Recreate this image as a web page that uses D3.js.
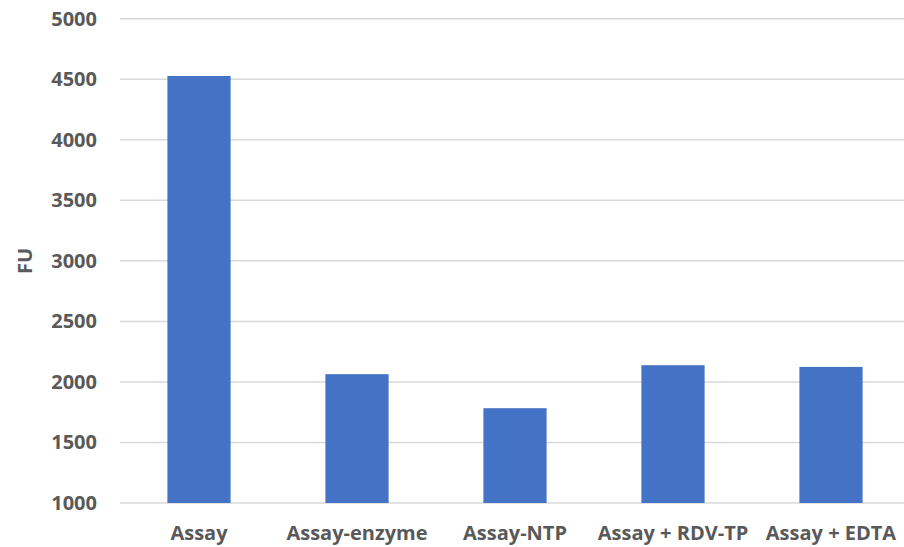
<!DOCTYPE html>
<html>
<head>
<meta charset="utf-8">
<script src="https://cdn.jsdelivr.net/npm/d3@7"></script>
<style>
  body { margin: 0; background: #fff; }
  text { font-family: "Open Sans", "Liberation Sans", sans-serif; font-weight: bold; fill: #595959; }
</style>
</head>
<body>
<div id="chart"></div>
<script>
const WIDTH  = 904
const HEIGHT = 547

// data
const categories = ['Assay', 'Assay-enzyme', 'Assay-NTP', 'Assay + RDV-TP', 'Assay + EDTA']
const values     = [4527, 2064, 1783, 2138, 2124]
const yTicks     = [1000, 1500, 2000, 2500, 3000, 3500, 4000, 4500, 5000]

const svg = d3.select('#chart').append('svg')
    .attr('width', WIDTH)
    .attr('height', HEIGHT)

const x = d3.scaleBand()
    .domain(categories)
    .range([120, 910])
    .paddingInner(0.6)
    .paddingOuter(0.3)

const y = d3.scaleLinear()
    .domain([1000, 5000])
    .range([503, 18.7])

// gridlines
svg.append('g')
    .selectAll('line')
    .data(yTicks)
    .join('line')
    .attr('x1', 120)
    .attr('x2', WIDTH)
    .attr('y1', d => y(d))
    .attr('y2', d => y(d))
    .attr('stroke', '#d9d9d9')
    .attr('stroke-width', 1.5)

// bars
svg.append('g')
    .selectAll('rect')
    .data(values)
    .join('rect')
    .attr('x', (d, i) => x(categories[i]))
    .attr('y', d => y(d))
    .attr('width', x.bandwidth())
    .attr('height', d => y(1000) - y(d))
    .attr('fill', '#4472c4')

// y tick labels
svg.append('g')
    .selectAll('text')
    .data(yTicks)
    .join('text')
    .attr('x', 97)
    .attr('y', d => y(d))
    .attr('dy', '0.35em')
    .attr('text-anchor', 'end')
    .attr('font-size', 20)
    .text(d => d)

// x labels
svg.append('g')
    .selectAll('text')
    .data(categories)
    .join('text')
    .attr('x', d => x(d) + x.bandwidth() / 2)
    .attr('y', 540)
    .attr('text-anchor', 'middle')
    .attr('font-size', 20)
    .text(d => d)

// axis title
svg.append('text')
    .attr('transform', 'translate(32, 261) rotate(-90)')
    .attr('text-anchor', 'middle')
    .attr('font-size', 20)
    .text('FU')
</script>
</body>
</html>
